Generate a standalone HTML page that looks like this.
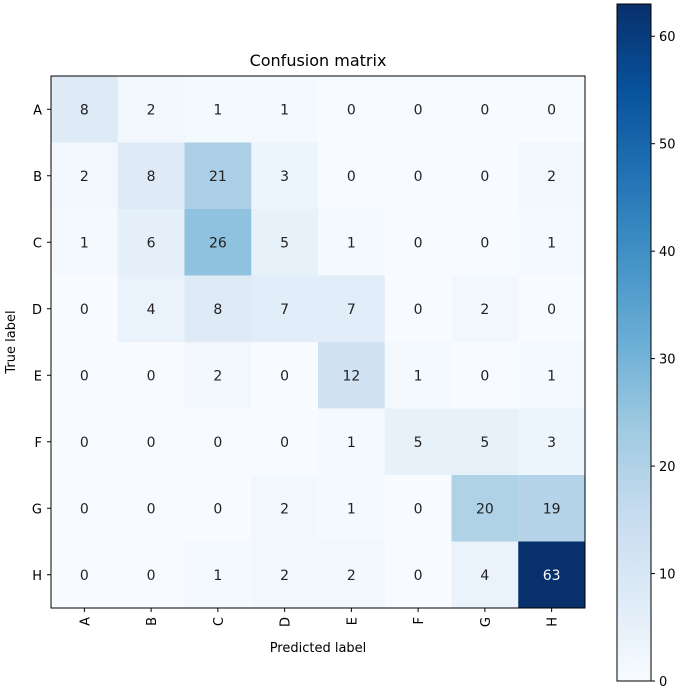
<!DOCTYPE html>
<html><head><meta charset="utf-8"><style>
body{margin:0;background:#fff;}
text{font-family:"DejaVu Sans","Liberation Sans",sans-serif;}
</style></head><body>
<svg id="chart" width="685" height="689" xmlns="http://www.w3.org/2000/svg">
<defs><linearGradient id="cbgrad" x1="0" y1="1" x2="0" y2="0">
<stop offset="0" stop-color="#f7fbff"/><stop offset="0.125" stop-color="#deebf7"/><stop offset="0.25" stop-color="#c6dbef"/><stop offset="0.375" stop-color="#9ecae1"/><stop offset="0.5" stop-color="#6baed6"/><stop offset="0.625" stop-color="#4292c6"/><stop offset="0.75" stop-color="#2171b5"/><stop offset="0.875" stop-color="#08519c"/><stop offset="1" stop-color="#08306b"/>
</linearGradient></defs>
<text x="318" y="66" font-size="16" text-anchor="middle">Confusion matrix</text>
<g id="cells"></g>
<rect x="51" y="76" width="534" height="532" fill="none" stroke="#000" stroke-width="1"/>
<g id="axes"></g>
<text x="318" y="652" font-size="13" text-anchor="middle">Predicted label</text>
<text transform="translate(15,342) rotate(-90)" font-size="13" text-anchor="middle">True label</text>
<rect x="617" y="4" width="34" height="677" fill="url(#cbgrad)" stroke="#000" stroke-width="1"/>
<g id="cbticks"></g>
</svg>
<script>
const labels = ["A","B","C","D","E","F","G","H"];
const matrix = [
[8,2,1,1,0,0,0,0],
[2,8,21,3,0,0,0,2],
[1,6,26,5,1,0,0,1],
[0,4,8,7,7,0,2,0],
[0,0,2,0,12,1,0,1],
[0,0,0,0,1,5,5,3],
[0,0,0,2,1,0,20,19],
[0,0,1,2,2,0,4,63]
];
const cbTicks = [0,10,20,30,40,50,60];
const vmax = 63;

const NS="http://www.w3.org/2000/svg";
const X0=51,Y0=76,W=534,H=532;
const cw=W/labels.length, ch=H/labels.length;
const stops=["#f7fbff","#deebf7","#c6dbef","#9ecae1","#6baed6","#4292c6","#2171b5","#08519c","#08306b"].map(h=>[1,3,5].map(i=>parseInt(h.substr(i,2),16)));
function blues(t){t=Math.max(0,Math.min(1,t));const p=t*8,i=Math.min(7,Math.floor(p)),f=p-i;const c=stops[i].map((v,k)=>Math.round(v+(stops[i+1][k]-v)*f));return `rgb(${c})`;}
function xPos(j){return X0+j*cw;}
function yPos(i){return Y0+i*ch;}
function cbY(v){return 681-v/vmax*677;}
function mk(tag,attrs,parent){const e=document.createElementNS(NS,tag);for(const k in attrs)e.setAttribute(k,attrs[k]);parent.appendChild(e);return e;}
const cells=document.getElementById('cells'), axes=document.getElementById('axes'), cbt=document.getElementById('cbticks');
matrix.forEach((row,i)=>row.forEach((v,j)=>{
  const r=mk('rect',{x:xPos(j),y:yPos(i),width:cw+0.5,height:ch+0.5,fill:blues(v/vmax)},cells);
  
  
  const t=mk('text',{x:xPos(j)+cw/2,y:yPos(i)+ch/2+5,'font-size':14,'text-anchor':'middle',fill:v>vmax/2?'#fff':'#222'},cells);
  t.textContent=v;
  
  
}));
labels.forEach((l,k)=>{
  const cx=xPos(k)+cw/2, cy=yPos(k)+ch/2;
  mk('line',{x1:cx,x2:cx,y1:608,y2:612,stroke:'#000'},axes);
  const tx=mk('text',{transform:`translate(${cx+5},${617}) rotate(-90)`,'font-size':13,'text-anchor':'end'},axes);
  tx.textContent=l;
  
  
  mk('line',{x1:47,x2:51,y1:cy,y2:cy,stroke:'#000'},axes);
  const ty=mk('text',{x:42,y:cy+5,'font-size':13,'text-anchor':'end'},axes);
  ty.textContent=l;
  
  
});
cbTicks.forEach(v=>{
  const y=cbY(v);
  mk('line',{x1:651,x2:655,y1:y,y2:y,stroke:'#000'},cbt);
  const t=mk('text',{x:659,y:y+5,'font-size':13},cbt);
  t.textContent=v;
  
  
});
</script>
</body></html>
